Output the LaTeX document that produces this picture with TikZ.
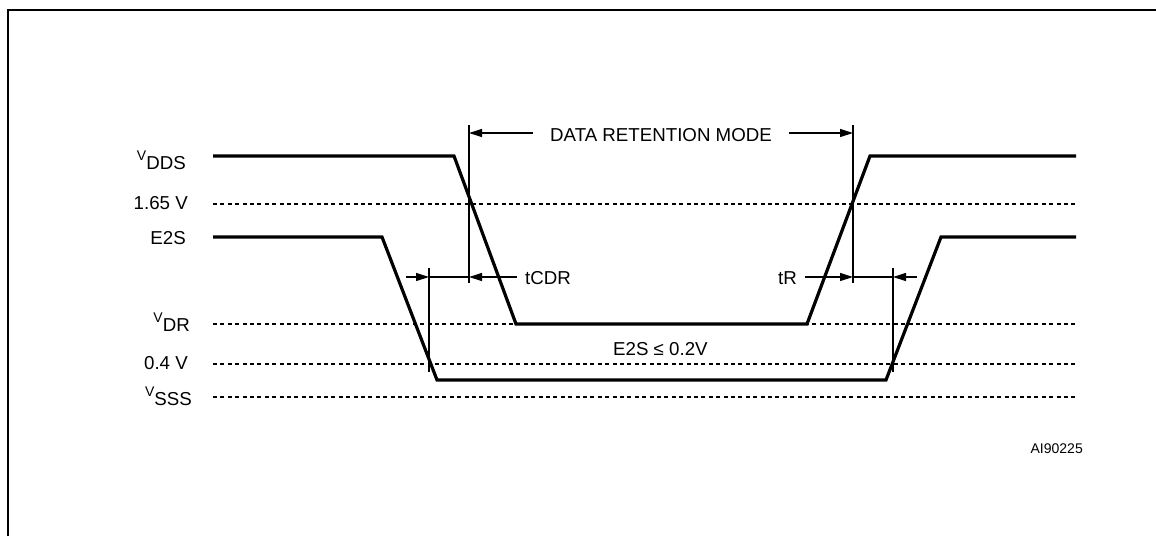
\documentclass[tikz,border=0pt]{standalone}
\usepackage{fontspec}
\setmainfont{Liberation Sans}
\usetikzlibrary{arrows.meta}
\begin{document}
\begin{tikzpicture}[x=1pt,y=-1pt,
  signal/.style={line width=3.2pt, line join=miter},
  levelline/.style={line width=1.2pt, dash pattern=on 4pt off 3.4pt},
  thinline/.style={line width=1.2pt},
  dimtip/.style={thinline, -{Triangle[length=13pt,width=8pt]}},
  lbl/.style={font=\fontsize{18.7}{22}\selectfont, inner sep=0pt},
  small/.style={font=\fontsize{14}{16}\selectfont, inner sep=0pt}]
\useasboundingbox (0,0) rectangle (1156,536);
% frame
\draw[line width=2.5pt] (8,536) -- (8,10) -- (1156,10);
% level lines
\draw[levelline] (213,204) -- (1076,204);
\draw[levelline] (213,324) -- (1076,324);
\draw[levelline] (213,364) -- (1076,364);
\draw[levelline] (213,397) -- (1076,397);
% signals
\draw[signal] (213,156) -- (454,156) -- (516,324) -- (807,324) -- (870,156) -- (1076,156);
\draw[signal] (213,237) -- (382,237) -- (437,380) -- (886,380) -- (941,237) -- (1076,237);
% labels
\newcommand{\vlab}[1]{\raisebox{9pt}{\fontsize{14}{14}\selectfont V}#1}
\node[lbl, anchor=base east] (lvdds) at (186,169) {\vlab{DDS}};
\node[lbl, anchor=base east] (l165) at (188,209) {1.65 V};
\node[lbl, anchor=base east] (le2s) at (186,244) {E2S};
\node[lbl, anchor=base east] (lvdr) at (190,331) {\vlab{DR}};
\node[lbl, anchor=base east] (l04) at (188,369) {0.4 V};
\node[lbl, anchor=base east] (lvsss) at (192,405) {\vlab{SSS}};
% data retention mode
\coordinate (dl) at (469,133);
\coordinate (dr) at (853,133);
\draw[thinline] (469,125) -- (469,283);
\draw[thinline] (853,125) -- (853,283);
\node[lbl, anchor=base] (drm) at (661,141.5) {DATA RETENTION MODE};
\coordinate (dla) at (533,133);
\coordinate (dra) at (789,133);
\draw[dimtip] (dla) -- (dl);
\draw[dimtip] (dra) -- (dr);
% tCDR
\draw[thinline] (429,268) -- (429,372);
\coordinate (c1) at (406,277);
\coordinate (c2) at (429,277);
\coordinate (c3) at (469,277);
\coordinate (c4) at (517,277);
\draw[dimtip] (c1) -- (c2);
\draw[thinline] (c2) -- (c3);
\draw[dimtip] (c4) -- (c3);
\node[lbl, anchor=base west] (tcdr) at (525,284) {tCDR};
% tR
\draw[thinline] (893,268) -- (893,372);
\coordinate (r1) at (805,277);
\coordinate (r2) at (853,277);
\coordinate (r3) at (893,277);
\coordinate (r4) at (917,277);
\draw[dimtip] (r1) -- (r2);
\draw[thinline] (r2) -- (r3);
\draw[dimtip] (r4) -- (r3);
\node[lbl, anchor=base west] (tr) at (778,284) {tR};
% condition
\node[lbl, anchor=base west] (cond) at (613,355) {E2S ≤ 0.2V};
\node[small, anchor=base east] (fig) at (1083,453) {AI90225};
\end{tikzpicture}
\end{document}
